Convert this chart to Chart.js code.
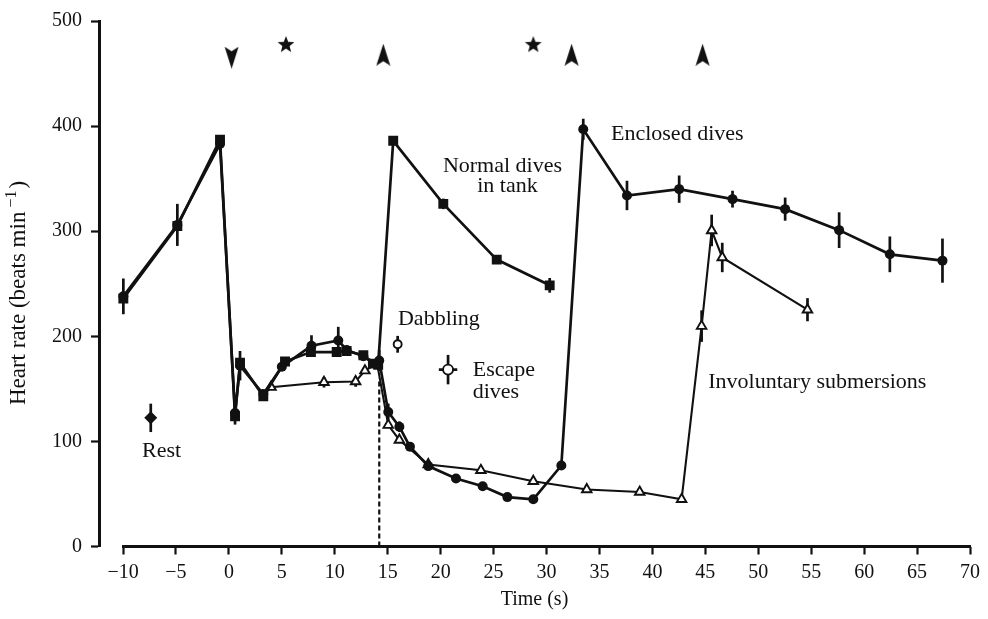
<!DOCTYPE html>
<html><head><meta charset="utf-8">
<script src="https://cdn.jsdelivr.net/npm/chart.js@4.4.1/dist/chart.umd.min.js"></script>
<style>html,body{margin:0;padding:0;background:#fff;}#wrap{width:988px;height:619px;}</style>
</head><body><div id="wrap"><canvas id="c" width="988" height="619"></canvas></div>
<script>
// ---------- data ----------
const xTicks = [-10, -5, 0, 5, 10, 15, 20, 25, 30, 35, 40, 45, 50, 55, 60, 65, 70];
const yTicks = [0, 100, 200, 300, 400, 500];

const normalX   = [-9.97, -4.87, -0.84, 0.58, 1.05, 3.25, 5.3, 7.75, 10.18, 11.12, 12.7, 13.6, 14.1, 15.52, 20.25, 25.3, 30.3];
const normalY   = [236, 305, 387, 124, 175, 143, 176, 185, 185, 186, 182, 174, 173, 386, 326, 273, 248.5];
const normalErr = [0, 0, 0, 0, 0, 0, 0, 0, 0, 0, 0, 0, 0, 0, 5, 4, 7];

const enclosedX   = [-9.97, -4.87, -0.84, 0.58, 1.05, 3.25, 5.0, 7.8, 10.33, 11.12, 12.7, 13.9, 14.2, 15.05, 16.1, 17.1, 18.83, 21.45, 23.97, 26.3, 28.75, 31.4, 33.47, 37.6, 42.53, 47.57, 52.54, 57.64, 62.43, 67.4];
const enclosedY   = [238, 306, 383, 127, 172, 145, 171, 191, 196, 187, 181, 174, 177, 128, 114, 95, 76.5, 64.7, 57.4, 47, 44.9, 77, 397, 334, 340, 330.5, 321, 301, 278, 272];
const enclosedErr = [17, 20, 6, 11, 14, 0, 0, 10, 13, 0, 0, 0, 10, 8, 5, 0, 0, 0, 0, 0, 0, 0, 10, 14, 13, 8, 11, 17, 17, 21];

const involX   = [3.25, 3.98, 8.98, 11.97, 12.85, 14.0, 15.05, 16.1, 18.83, 23.8, 28.75, 33.8, 38.8, 42.76, 44.65, 45.6, 46.6, 54.65];
const involY   = [143.8, 151.6, 156.3, 157, 167.3, 174, 115.5, 101.4, 78, 72.5, 62.1, 54.3, 51.8, 44.9, 209.7, 300.7, 275, 225.3];
const involErr = [0, 0, 5, 5, 0, 0, 0, 0, 0, 0, 0, 0, 0, 0, 15, 15, 14, 11];

const restX = [-7.38], restY = [122.4], restErr = [13.5];
const dabX = [15.94], dabY = [192.4], dabErr = [8];
const escX = [20.7], escY = [168.3], escYErr = [14], escXErr = [0.87];

const dashX = [14.2, 14.2], dashY = [0, 160];

const arrowDownX = [0.26], arrowDownY = [465];
const arrowUpX = [14.58, 32.37, 44.74], arrowUpY = [468, 468, 468];
const starX = [5.39, 28.75], starY = [478, 478];

const labelTexts = ['Rest', 'Dabbling', 'Escape', 'dives', 'Normal dives', 'in tank', 'Enclosed dives', 'Involuntary submersions'];
const yTitleParts = ['Heart rate (beats min', '\u22121', ')'];
const xTitle = 'Time (s)';

// ---------- layout / style ----------
const labelPos = [
  {x: -6.35, y: 90.8, align: 'center'},
  {x: 15.97, y: 215.9, align: 'left'},
  {x: 23.03, y: 167.9, align: 'left'},
  {x: 23.03, y: 147.2, align: 'left'},
  {x: 25.84, y: 362, align: 'center'},
  {x: 26.31, y: 343.2, align: 'center'},
  {x: 36.09, y: 391.8, align: 'left'},
  {x: 45.28, y: 156.6, align: 'left'}
];
const INK = '#111';
const FONT = '"Liberation Serif", "Times New Roman", serif';

const pts = (xs, ys) => xs.map((x, i) => ({x, y: ys[i]}));

function makeArrow() {
  const c = document.createElement('canvas'); c.width = 15; c.height = 22;
  const g = c.getContext('2d'); g.fillStyle = INK; g.beginPath();
  g.moveTo(7.5, 0); g.lineTo(14.5, 22); g.lineTo(7.5, 17.5); g.lineTo(0.5, 22); g.closePath(); g.fill();
  return c;
}
function makeStar() {
  const c = document.createElement('canvas'); c.width = 18; c.height = 18;
  const g = c.getContext('2d'); g.fillStyle = INK; g.beginPath();
  for (let i = 0; i < 10; i++) {
    const r = i % 2 ? 3.8 : 8.8, a = -Math.PI / 2 + i * Math.PI / 5;
    const px = 9 + r * Math.cos(a), py = 9.8 + r * Math.sin(a);
    i ? g.lineTo(px, py) : g.moveTo(px, py);
  }
  g.closePath(); g.fill(); return c;
}
const arrowImg = makeArrow(), starImg = makeStar();

const errorBars = {
  id: 'errorBars',
  beforeDatasetsDraw(chart) {
    const {ctx, scales: {x, y}} = chart;
    ctx.save(); ctx.strokeStyle = INK; ctx.lineWidth = 2.7;
    chart.data.datasets.forEach(ds => {
      ds.data.forEach((p, j) => {
        const ey = ds.yErr ? ds.yErr[j] : 0, ex = ds.xErr ? ds.xErr[j] : 0;
        if (ey) {
          const px = x.getPixelForValue(p.x);
          ctx.beginPath(); ctx.moveTo(px, y.getPixelForValue(p.y - ey)); ctx.lineTo(px, y.getPixelForValue(p.y + ey)); ctx.stroke();
        }
        if (ex) {
          const py = y.getPixelForValue(p.y);
          ctx.beginPath(); ctx.moveTo(x.getPixelForValue(p.x - ex), py); ctx.lineTo(x.getPixelForValue(p.x + ex), py); ctx.stroke();
        }
      });
    });
    ctx.restore();
  }
};

const annotations = {
  id: 'annotations',
  afterDatasetsDraw(chart) {
    const {ctx, scales: {x, y}} = chart;
    ctx.save(); ctx.fillStyle = INK; ctx.font = '22px ' + FONT; ctx.textBaseline = 'middle';
    labelTexts.forEach((t, i) => {
      const p = labelPos[i]; ctx.textAlign = p.align;
      ctx.fillText(t, x.getPixelForValue(p.x), y.getPixelForValue(p.y));
    });
    ctx.restore();
  }
};

// y-axis title with a real superscript, centred where the reference has it
const yTitle = {
  id: 'yTitle',
  afterDraw(chart) {
    const {ctx} = chart;
    const big = '23px ' + FONT, small = '16px ' + FONT;
    ctx.save(); ctx.fillStyle = INK; ctx.textBaseline = 'alphabetic'; ctx.textAlign = 'left';
    ctx.font = big; const w0 = ctx.measureText(yTitleParts[0]).width, w2 = ctx.measureText(yTitleParts[2]).width;
    ctx.font = small; const w1 = ctx.measureText(yTitleParts[1]).width;
    const gap = 4, total = w0 + gap + w1 + 2 + w2;
    ctx.translate(25, 293); ctx.rotate(-Math.PI / 2);
    let cx = -total / 2;
    ctx.font = big; ctx.fillText(yTitleParts[0], cx, 0); cx += w0 + gap;
    ctx.font = small; ctx.fillText(yTitleParts[1], cx, -9); cx += w1 + 2;
    ctx.font = big; ctx.fillText(yTitleParts[2], cx, 0);
    ctx.restore();
  }
};

const xAxisLine = {
  id: 'xAxisLine',
  afterDraw(chart) {
    const {ctx, chartArea, scales: {x}} = chart;
    ctx.save(); ctx.strokeStyle = INK; ctx.lineWidth = 3;
    ctx.beginPath();
    ctx.moveTo(x.getPixelForValue(xTicks[0]) - 1, chartArea.bottom);
    ctx.lineTo(x.getPixelForValue(xTicks[xTicks.length - 1]) + 1, chartArea.bottom);
    ctx.stroke(); ctx.restore();
  }
};

const fmt = v => v < 0 ? '\u2212' + Math.abs(v) : String(v);

new Chart(document.getElementById('c'), {
  type: 'scatter',
  data: {
    datasets: [
      { data: pts(enclosedX, enclosedY), yErr: enclosedErr, showLine: true, borderColor: INK, borderWidth: 2.7,
        pointStyle: 'circle', pointRadius: 5, backgroundColor: INK, pointBorderColor: INK, pointBorderWidth: 0 },
      { data: pts(normalX, normalY), yErr: normalErr, showLine: true, borderColor: INK, borderWidth: 2.7,
        pointStyle: 'rect', pointRadius: 7, backgroundColor: INK, pointBorderColor: INK, pointBorderWidth: 0 },
      { data: pts(involX, involY), yErr: involErr, showLine: true, borderColor: INK, borderWidth: 2.1,
        pointStyle: 'triangle', pointRadius: c => (c.dataIndex === 0 || c.dataIndex === 5) ? 0 : 5.5,
        backgroundColor: '#fff', pointBackgroundColor: '#fff', pointBorderColor: INK, pointBorderWidth: 1.9 },
      { data: pts(dashX, dashY), showLine: true, borderColor: INK, borderWidth: 2.2, borderDash: [5, 3], pointRadius: 0 },
      { data: pts(restX, restY), yErr: restErr, pointStyle: 'rectRot', pointRadius: 6.5, backgroundColor: INK, pointBorderColor: INK, pointBorderWidth: 0 },
      { data: pts(dabX, dabY), yErr: dabErr, pointStyle: 'circle', pointRadius: 4, pointBackgroundColor: '#fff', pointBorderColor: INK, pointBorderWidth: 1.9 },
      { data: pts(escX, escY), yErr: escYErr, xErr: escXErr, pointStyle: 'circle', pointRadius: 5, pointBackgroundColor: '#fff', pointBorderColor: INK, pointBorderWidth: 1.9 },
      { data: pts(arrowDownX, arrowDownY), pointStyle: arrowImg, pointRotation: 180, pointRadius: 6 },
      { data: pts(arrowUpX, arrowUpY), pointStyle: arrowImg, pointRadius: 6 },
      { data: pts(starX, starY), pointStyle: starImg, pointRadius: 6 }
    ]
  },
  options: {
    responsive: false, animation: false, events: [], devicePixelRatio: 1,
    layout: { padding: { top: 15, right: 18, bottom: 0, left: 0 } },
    plugins: { legend: { display: false }, tooltip: { enabled: false } },
    elements: { line: { tension: 0 } },
    scales: {
      x: {
        type: 'linear', min: -12.27, max: 70,
        afterFit: s => { s.height = 72.5; },
        afterBuildTicks: s => { s.ticks = xTicks.map(v => ({value: v})); },
        border: { display: false },
        grid: { display: true, drawOnChartArea: false, drawTicks: true, tickLength: 8, tickWidth: 2.2, tickColor: INK, color: INK },
        ticks: { color: INK, font: { family: FONT, size: 20 }, padding: 6, maxRotation: 0, autoSkip: false, callback: v => fmt(v) },
        title: { display: true, text: xTitle, color: INK, font: { family: FONT, size: 20 }, padding: { top: 0, bottom: 7 } }
      },
      y: {
        type: 'linear', min: 0, max: 500,
        afterFit: s => { s.width = 99; },
        afterBuildTicks: s => { s.ticks = yTicks.map(v => ({value: v})); },
        border: { display: true, color: INK, width: 3 },
        grid: { display: true, drawOnChartArea: false, drawTicks: true, tickLength: 8, tickWidth: 2.2, tickColor: INK, color: INK },
        ticks: { color: INK, font: { family: FONT, size: 20 }, padding: 9, callback: v => fmt(v) },
        title: { display: false }
      }
    }
  },
  plugins: [errorBars, annotations, xAxisLine, yTitle]
});
</script>
</body></html>
